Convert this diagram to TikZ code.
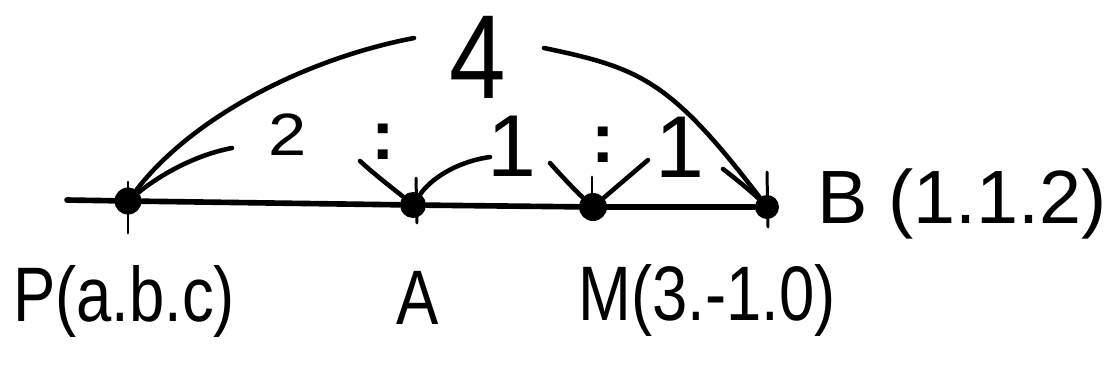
\documentclass[tikz,border=0pt]{standalone}
\usepackage{fontspec}
\setmainfont{Liberation Sans}
\usepackage{tikz}
\usetikzlibrary{positioning}

\newcommand{\hwtext}[2][0.82]{\scalebox{#1}[1]{#2}}

\begin{document}
\begin{tikzpicture}[x=0.02cm, y=-0.02cm, line cap=round]
	\tikzstyle{dot}=[circle, fill=black, inner sep=0pt, minimum size=0.54cm]
	\tikzstyle{arc}=[line width=2.6pt]
	\tikzstyle{tick}=[line width=1.7pt]
	\tikzstyle{lbl}=[font=\fontsize{44}{48}\selectfont, inner sep=0pt]
	\tikzstyle{ratio}=[font=\fontsize{50}{54}\selectfont, inner sep=0pt]
	\tikzstyle{colon}=[font=\fontsize{40}{44}\selectfont\bfseries, inner sep=0pt]

	\useasboundingbox (0,0) rectangle (1110,373);

	% Points on the line
	\coordinate (L) at (67,200);
	\node[dot] (P) at (128,201) {};
	\node[dot, minimum size=0.52cm] (A) at (413,205) {};
	\node[dot, minimum size=0.56cm] (M) at (593,207) {};
	\node[dot, minimum size=0.48cm] (B) at (767,207) {};

	% Line
	\draw[line width=3.2pt] (L) -- (P) -- (A) -- (M) -- (B);

	% Ticks
	\draw[tick] (P.center) ++(0,-19) -- ++(0,51);
	\draw[tick] (A.center) ++(3,-27) -- ++(1,45);
	\draw[tick] (M.center) ++(-1,-30) -- ++(0,23);
	\draw[tick] (B.center) ++(0,-35) -- ++(1,55);

	% Labels
	\node[lbl] (lP) at (124,301) {\hwtext{P(a.b.c)}};
	\node[lbl] (lA) at (418,298) {\hwtext{A}};
	\node[lbl] (lM) at (707,300) {\hwtext{M(3.-1.0)}};
	\node[lbl, font=\fontsize{43}{47}\selectfont] (lB) at (962,204) {B (1.1.2)};

	% Ratio texts
	\node[font=\fontsize{68}{72}\selectfont, inner sep=0pt] (four) at (478,57) {\hwtext[0.85]{4}};
	\node[font=\fontsize{34}{38}\selectfont, inner sep=0pt] (two) at (288,135) {\hwtext[1.15]{2}};
	\node[colon] (c1) at (383,142) {:};
	\node[ratio] (one1) at (512,146) {1};
	\node[colon] (c2) at (603,145) {:};
	\node[ratio] (one2) at (680,147) {1};

	% Free ends of the arcs
	\coordinate (s4) at (414,38);
	\coordinate (e4) at (544,48);
	\coordinate (s2) at (232,148);
	\coordinate (a1) at (360,161);
	\coordinate (a2) at (490,157);
	\coordinate (m1) at (550,163);
	\coordinate (m2) at (648,160);
	\coordinate (b1) at (723,169);

	% Arcs
	\draw[arc] (s4) .. controls (300,60) and (190,120) .. (P);
	\draw[arc] (s2) .. controls (195,155) and (160,175) .. (P);
	\draw[arc] (e4) .. controls (640,68) and (670,80) .. (B);
	\draw[arc] (a1) .. controls (375,175) and (395,190) .. (A);
	\draw[arc] (a2) .. controls (455,162) and (430,180) .. (A);
	\draw[arc] (m1) .. controls (565,180) and (578,193) .. (M);
	\draw[arc] (m2) -- (M);
	\draw[arc] (b1) .. controls (740,182) and (755,195) .. (B);
\end{tikzpicture}
\end{document}
